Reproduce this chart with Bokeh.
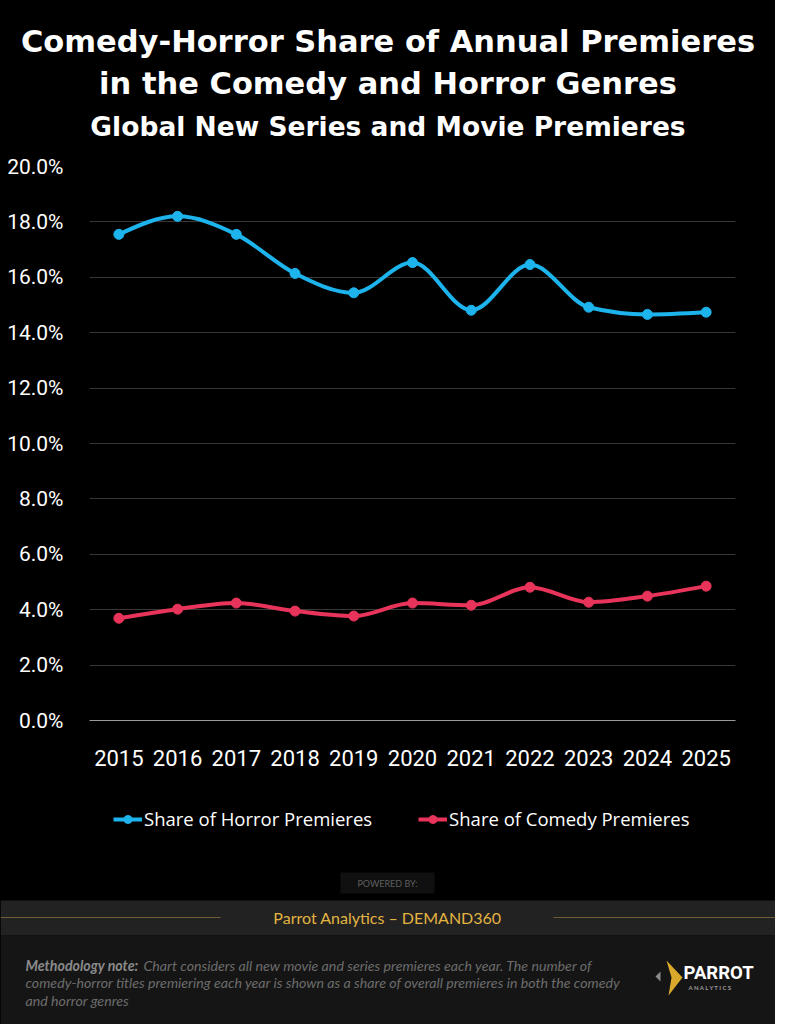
import numpy as np
from bokeh.plotting import figure
from bokeh.models import Range1d, FixedTicker, PrintfTickFormatter, Legend, LegendItem
from bokeh.layouts import column
from bokeh.embed import file_html
from bokeh.resources import INLINE
from bokeh.core.properties import value

# ---------------- data ----------------
years = [2015, 2016, 2017, 2018, 2019, 2020, 2021, 2022, 2023, 2024, 2025]
horror_share = [17.55, 18.20, 17.55, 16.14, 15.44, 16.53, 14.81, 16.46, 14.92, 14.66, 14.74]
comedy_share = [3.69, 4.02, 4.24, 3.95, 3.77, 4.24, 4.16, 4.81, 4.27, 4.49, 4.85]
y_ticks = [0, 2, 4, 6, 8, 10, 12, 14, 16, 18, 20]
series_names = ["Share of Horror Premieres", "Share of Comedy Premieres"]
series_colors = ["#1DB3EC", "#E8345A"]
title_lines = ["Comedy-Horror Share of Annual Premieres",
               "in the Comedy and Horror Genres",
               "Global New Series and Movie Premieres"]
note_bold = "Methodology note:"
note_lines = ["Chart considers all new movie and series premieres each year.  The number of",
              "comedy-horror titles premiering each year is shown as a share of overall premieres in both the comedy",
              "and horror genres"]

W = 775
HEAD_FONT = value("DejaVu Sans")
BODY_FONT = value("Lato")
TICK_FONT = "Roboto"


def monotone_bezier(xs, ys):
    """Monotone-X cubic (d3 style) control points computed from the data."""
    x = np.asarray(xs, float)
    y = np.asarray(ys, float)
    h = np.diff(x)
    s = np.diff(y) / h
    n = len(x)
    t = np.zeros(n)
    for i in range(1, n - 1):
        s0, s1 = s[i - 1], s[i]
        h0, h1 = h[i - 1], h[i]
        p_ = (s0 * h1 + s1 * h0) / (h0 + h1)
        sg = (-1 if s0 < 0 else 1) + (-1 if s1 < 0 else 1)
        t[i] = sg * min(abs(s0), abs(s1), 0.5 * abs(p_))
    t[0] = (3 * s[0] - t[1]) / 2
    t[-1] = (3 * s[-1] - t[-2]) / 2
    return dict(x0=x[:-1], y0=y[:-1], x1=x[1:], y1=y[1:],
                cx0=x[:-1] + h / 3, cy0=y[:-1] + t[:-1] * h / 3,
                cx1=x[1:] - h / 3, cy1=y[1:] - t[1:] * h / 3)


def blank(height, y0, y1):
    f = figure(width=W, height=height, x_range=Range1d(0, W), y_range=Range1d(y1, y0),
               toolbar_location=None, output_backend="svg", min_border=0)
    f.axis.visible = False
    f.grid.visible = False
    f.outline_line_color = None
    f.background_fill_color = "black"
    f.border_fill_color = "black"
    f.frame_align = False
    return f


# ---------------- header ----------------
head = blank(150, 0, 150)
head.text(x=[W / 2, W / 2], y=[41, 83], text=title_lines[:2], text_align="center",
          text_baseline="middle", text_color="white", text_font=HEAD_FONT,
          text_font_size="30.5px", text_font_style="bold")
head.text(x=[W / 2], y=[126], text=title_lines[2:], text_align="center",
          text_baseline="middle", text_color="white", text_font=HEAD_FONT,
          text_font_size="26.5px", text_font_style="bold")

# ---------------- main chart ----------------
p = figure(width=W, height=630, x_range=Range1d(2014.5, 2025.5), y_range=Range1d(0, 20),
           toolbar_location=None, output_backend="svg",
           min_border_left=89, min_border_right=40, min_border_top=16, min_border_bottom=60)
p.frame_align = False
p.background_fill_color = "black"
p.border_fill_color = "black"
p.outline_line_color = None

p.xgrid.visible = False
p.ygrid.ticker = FixedTicker(ticks=y_ticks)
p.ygrid.grid_line_color = "#383838"
p.ygrid.grid_line_width = 1

p.yaxis.ticker = FixedTicker(ticks=y_ticks)
p.yaxis.formatter = PrintfTickFormatter(format="%.1f%%")
p.xaxis.ticker = FixedTicker(ticks=years)
for ax in (p.xaxis, p.yaxis):
    ax.major_tick_line_color = None
    ax.minor_tick_line_color = None
    ax.major_label_text_color = "white"
    ax.major_label_text_font = TICK_FONT
p.yaxis.major_label_text_font_size = "21px"
p.xaxis.major_label_text_font_size = "22px"
p.yaxis.axis_line_color = None
p.yaxis.major_label_standoff = 20
p.xaxis.axis_line_color = "#9a9a9a"
p.xaxis.major_label_standoff = 23

for vals, col in zip([horror_share, comedy_share], series_colors):
    p.bezier(line_color=col, line_width=4, **monotone_bezier(years, vals))
    p.scatter(years, vals, size=10, fill_color=col, line_color=col)

# ---------------- footer (legend + branding) ----------------
foot = blank(244, 780, 1024)
items = []
for name, vals, col in zip(series_names, [horror_share, comedy_share], series_colors):
    # legend proxies carrying the series (they fall outside this panel's range)
    lr = foot.line(x=years, y=vals, line_color=col, line_width=4)
    sr = foot.scatter(x=years, y=vals, size=10, fill_color=col, line_color=col)
    items.append(LegendItem(label=name, renderers=[lr, sr]))
legend = Legend(items=items, location=(113, 193), orientation="horizontal",
                background_fill_alpha=0, border_line_color=None,
                label_text_color="white", label_text_font="Open Sans",
                label_text_font_size="18.5px", glyph_width=29, glyph_height=20,
                label_standoff=2, spacing=46, padding=0, margin=0)
foot.add_layout(legend)

foot.quad(left=[340], right=[434], top=[872], bottom=[893], fill_color="#101010", line_color=None)
foot.text(x=[387], y=[883], text=["POWERED BY:"], text_align="center", text_baseline="middle",
          text_color="#5e5e5e", text_font=BODY_FONT, text_font_size="9px")
foot.quad(left=[0], right=[W], top=[900], bottom=[935], fill_color="#222222", line_color=None)
foot.quad(left=[0], right=[W], top=[935], bottom=[1024], fill_color="#151515", line_color=None)
foot.segment(x0=[0, 553], y0=[917, 917], x1=[220, W], y1=[917, 917], line_color="#6e5c34", line_width=1)
foot.text(x=[387], y=[917], text=["Parrot Analytics \u2013 DEMAND360"], text_align="center",
          text_baseline="middle", text_color="#E3B441", text_font=BODY_FONT, text_font_size="16px")
foot.text(x=[25], y=[965], text=[note_bold], text_baseline="middle", text_color="#8a8a8a",
          text_font=BODY_FONT, text_font_size="14.2px", text_font_style="bold italic")
foot.text(x=[143, 25, 25], y=[965, 982, 1000], text=note_lines, text_baseline="middle",
          text_color="#6c6c6c", text_font=BODY_FONT, text_font_size="14.2px", text_font_style="italic")
# logo
foot.patch(x=[660, 660, 655], y=[971, 981, 976], fill_color="#8c8c8c", line_color=None)
foot.patch(x=[666, 682, 668, 671], y=[960, 977, 995, 977], fill_color="#D9A92B", line_color=None)
foot.text(x=[683], y=[972], text=["PARROT"], text_baseline="middle", text_color="white",
          text_font=value("Roboto"), text_font_size="18.5px", text_font_style="bold")
foot.text(x=[688], y=[987], text=["A N A L Y T I C S"], text_baseline="middle", text_color="#9a9a9a",
          text_font=BODY_FONT, text_font_size="6px", text_font_style="bold")

layout = column(head, p, foot, spacing=0, styles={"background-color": "black"})
open("out.html", "w").write(file_html(layout, INLINE))
